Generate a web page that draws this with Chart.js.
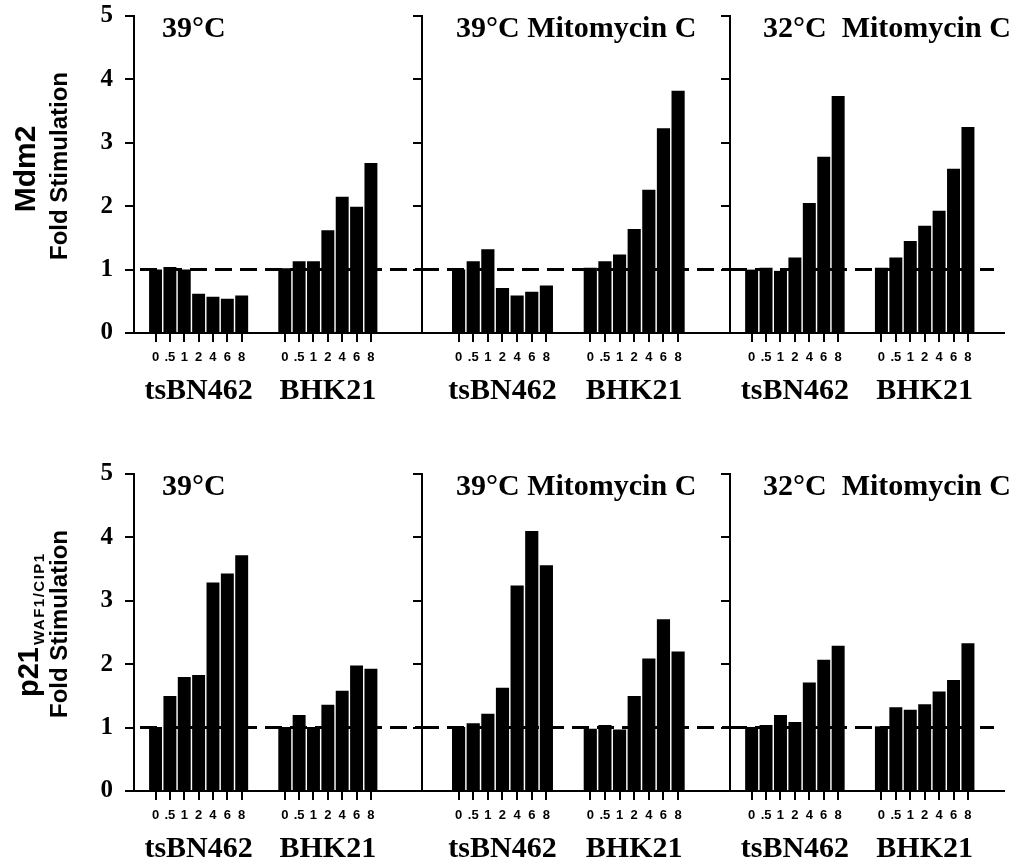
<!DOCTYPE html>
<html>
<head>
<meta charset="utf-8">
<script src="https://cdn.jsdelivr.net/npm/chart.js@4.4.1/dist/chart.umd.min.js"></script>
<style>
  html, body { margin: 0; padding: 0; background: #fff; overflow: hidden; }
  #wrap { position: relative; width: 1021px; height: 860px; overflow: hidden; }
  #wrap canvas { position: absolute; }
</style>
</head>
<body>
<div id="wrap"></div>
<script>
// hours after treatment
var doses = ['0', '.5', '1', '2', '4', '6', '8'];
var cellLines = ['tsBN462', 'BHK21'];
var conditions = ['39°C', '39°C Mitomycin C', '32°C  Mitomycin C'];
var yTicks = [0, 1, 2, 3, 4, 5];
var refValue = 1;

// Mdm2 fold stimulation, one row per condition
var mdm2Ts = [
    [1.00, 1.04, 1.00, 0.62, 0.57, 0.54, 0.59],
    [1.00, 1.13, 1.32, 0.71, 0.59, 0.65, 0.75],
    [1.00, 1.03, 0.98, 1.19, 2.05, 2.78, 3.74]
];
var mdm2Bhk = [
    [1.02, 1.13, 1.13, 1.62, 2.15, 1.99, 2.68],
    [1.03, 1.13, 1.24, 1.64, 2.26, 3.23, 3.82],
    [1.03, 1.19, 1.45, 1.69, 1.93, 2.59, 3.25]
];

// p21 WAF1/CIP1 fold stimulation
var p21Ts = [
    [1.01, 1.50, 1.80, 1.83, 3.29, 3.43, 3.72],
    [1.01, 1.07, 1.22, 1.63, 3.24, 4.10, 3.56],
    [1.01, 1.04, 1.20, 1.09, 1.71, 2.07, 2.29]
];
var p21Bhk = [
    [1.01, 1.20, 1.01, 1.36, 1.58, 1.98, 1.93],
    [0.98, 1.04, 0.97, 1.50, 2.09, 2.71, 2.20],
    [1.02, 1.32, 1.28, 1.37, 1.57, 1.75, 2.33]
];

// layout of the six panels
var rowTops = [0, 458];
var panels = [
    { left: 0,   width: 422, axisW: 134, padR: 0,  lead: 1, trail: 3, titleX: 28 },
    { left: 410, width: 320, axisW: 12,  padR: 0,  lead: 2, trail: 3, titleX: 34 },
    { left: 718, width: 303, axisW: 12,  padR: 17, lead: 1, trail: 2, titleX: 33 }
];
var midGap = 2;
var SANS = 'Liberation Sans, Arial, sans-serif';
var SERIF = 'Liberation Serif, Times New Roman, serif';

function blanks(n) {
    var a = [];
    for (var i = 0; i < n; i++) a.push('');
    return a;
}
function nulls(n) {
    var a = [];
    for (var i = 0; i < n; i++) a.push(null);
    return a;
}

// dashed line at fold = 1
var refLine = {
    id: 'refLine',
    afterDatasetsDraw: function(chart, args, opts) {
        var ctx = chart.ctx, area = chart.chartArea;
        var y = chart.scales.y.getPixelForValue(refValue);
        ctx.save();
        ctx.setLineDash([17, 8]);
        ctx.lineWidth = 3;
        ctx.strokeStyle = '#000';
        ctx.beginPath();
        ctx.moveTo(area.left + opts.startOff, y);
        ctx.lineTo(area.right - opts.endOff, y);
        ctx.stroke();
        ctx.restore();
    }
};

// panel title and y axis titles
var panelText = {
    id: 'panelText',
    afterDraw: function(chart, args, opts) {
        var ctx = chart.ctx, area = chart.chartArea;
        ctx.save();
        ctx.fillStyle = '#000';
        ctx.textBaseline = 'alphabetic';
        ctx.textAlign = 'left';
        ctx.font = 'bold 30px ' + SERIF;
        ctx.fillText(opts.title, area.left + opts.titleX, area.top + 21);

        if (opts.yTitle) {
            var yt = opts.yTitle;
            if (yt.main === 'Mdm2') {
                ctx.save();
                ctx.translate(35, 169);
                ctx.rotate(-Math.PI / 2);
                ctx.textAlign = 'center';
                ctx.font = 'bold 30px ' + SANS;
                ctx.fillText('Mdm2', 0, 0);
                ctx.restore();
            } else {
                ctx.save();
                ctx.translate(38, 239);
                ctx.rotate(-Math.PI / 2);
                ctx.textAlign = 'left';
                ctx.font = 'bold 29px ' + SANS;
                ctx.fillText(yt.main, 0, 0);
                var w = ctx.measureText(yt.main).width;
                ctx.font = 'bold 15px ' + SANS;
                ctx.letterSpacing = '1.5px';
                ctx.fillText(yt.sub, w + 2, 6);
                ctx.restore();
            }
            ctx.save();
            ctx.translate(67, 166);
            ctx.rotate(-Math.PI / 2);
            ctx.textAlign = 'center';
            ctx.font = 'bold 24px ' + SANS;
            ctx.fillText('Fold Stimulation', 0, 0);
            ctx.restore();
        }
        ctx.restore();
    }
};

function makePanel(row, p, tsVals, bhkVals, yTitle) {
    var pan = panels[p];
    var canvas = document.createElement('canvas');
    canvas.width = pan.width;
    canvas.height = 413;
    canvas.style.left = pan.left + 'px';
    canvas.style.top = rowTops[row] + 'px';
    document.getElementById('wrap').appendChild(canvas);

    var labels = blanks(pan.lead).concat(doses, blanks(midGap), doses, blanks(pan.trail));
    var values = nulls(pan.lead).concat(tsVals, nulls(midGap), bhkVals, nulls(pan.trail));
    var groups = blanks(labels.length);
    groups[pan.lead + 3] = cellLines[0];
    groups[pan.lead + doses.length + midGap + 3] = cellLines[1];

    new Chart(canvas, {
        type: 'bar',
        data: {
            labels: labels,
            datasets: [{
                data: values,
                backgroundColor: '#000',
                borderWidth: 0,
                barPercentage: 0.9,
                categoryPercentage: 1
            }]
        },
        options: {
            responsive: false,
            animation: false,
            layout: { padding: { top: 16, right: pan.padR, bottom: 0, left: 0 } },
            plugins: {
                legend: { display: false },
                tooltip: { enabled: false },
                refLine: { startOff: p === 0 ? 6 : 0, endOff: p === 2 ? 10 : 0 },
                panelText: { title: conditions[p], titleX: pan.titleX, yTitle: yTitle }
            },
            scales: {
                x: {
                    type: 'category',
                    position: 'bottom',
                    offset: true,
                    grid: {
                        drawOnChartArea: false,
                        drawTicks: true,
                        tickLength: 9,
                        offset: false,
                        lineWidth: 2,
                        color: function(c) { return labels[c.index] ? '#000' : 'rgba(0,0,0,0)'; }
                    },
                    border: { display: true, color: '#000', width: 2 },
                    ticks: {
                        autoSkip: false,
                        maxRotation: 0,
                        padding: 8,
                        color: '#000',
                        font: { family: SANS, weight: 'bold', size: 13 }
                    },
                    afterFit: function(s) { s.height = 32; }
                },
                g: {
                    type: 'category',
                    position: 'bottom',
                    offset: true,
                    labels: groups,
                    grid: { display: false },
                    border: { display: false },
                    ticks: {
                        autoSkip: false,
                        maxRotation: 0,
                        padding: 3,
                        color: '#000',
                        font: { family: SERIF, weight: 'bold', size: 30, lineHeight: 1 }
                    },
                    afterFit: function(s) { s.height = 48; }
                },
                y: {
                    min: yTicks[0],
                    max: yTicks[yTicks.length - 1],
                    afterBuildTicks: function(s) {
                        s.ticks = yTicks.map(function(v) { return { value: v }; });
                    },
                    grid: { drawOnChartArea: false, tickLength: 9, lineWidth: 2, color: '#000' },
                    border: { color: '#000', width: 2 },
                    ticks: {
                        display: p === 0,
                        padding: 12,
                        color: '#000',
                        font: { family: SERIF, weight: 'bold', size: 25 }
                    },
                    afterFit: function(s) {
                        s.width = pan.axisW;
                        s.paddingTop = 0;
                        s.paddingBottom = 0;
                    }
                }
            }
        },
        plugins: [refLine, panelText]
    });
}

for (var p = 0; p < 3; p++) {
    makePanel(0, p, mdm2Ts[p], mdm2Bhk[p], p === 0 ? { main: 'Mdm2' } : null);
    makePanel(1, p, p21Ts[p], p21Bhk[p], p === 0 ? { main: 'p21', sub: 'WAF1/CIP1' } : null);
}
</script>
</body>
</html>
